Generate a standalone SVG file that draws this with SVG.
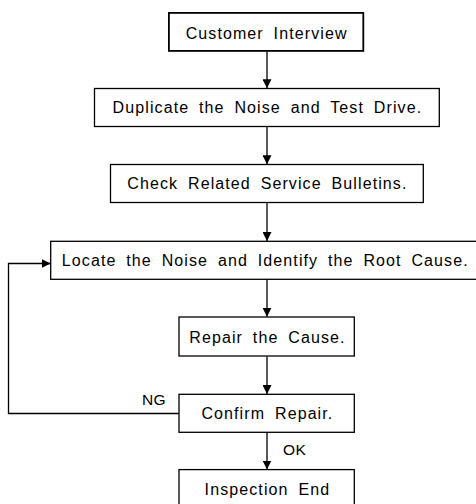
<svg xmlns="http://www.w3.org/2000/svg" width="476" height="504" viewBox="0 0 476 504">
  <defs>
    <style>
      .box { fill: #fff; stroke: #000; stroke-width: 1.3; }
      .box.start { stroke-width: 1.8; }
      .label { font-family: "Liberation Sans", Arial, sans-serif; font-size: 16px; letter-spacing: 1.1px; word-spacing: 4.3px; fill: #000; text-anchor: middle; }
      .tag { font-family: "Liberation Sans", Arial, sans-serif; font-size: 15.5px; letter-spacing: 0.4px; fill: #000; }
      .wire { fill: none; stroke: #000; stroke-width: 1.3; }
    </style>
    <marker id="arrow" viewBox="0 0 10 10" refX="10" refY="5" markerWidth="9" markerHeight="9" markerUnits="userSpaceOnUse" orient="auto">
      <path d="M0,0 L10,5 L0,10 Z" fill="#000"/>
    </marker>
  </defs>

  <rect width="476" height="504" fill="#fff"/>

  <!-- connectors -->
  <g id="connectors">
    <line class="wire" x1="267" y1="51.5" x2="267" y2="88.3" marker-end="url(#arrow)"/>
    <line class="wire" x1="267" y1="126.5" x2="267" y2="164.3" marker-end="url(#arrow)"/>
    <line class="wire" x1="267" y1="202.5" x2="267" y2="241" marker-end="url(#arrow)"/>
    <line class="wire" x1="267" y1="279.5" x2="267" y2="316.8" marker-end="url(#arrow)"/>
    <line class="wire" x1="267" y1="356.5" x2="267" y2="394" marker-end="url(#arrow)"/>
    <line class="wire" x1="267" y1="432.5" x2="267" y2="469.5" marker-end="url(#arrow)"/>
    <!-- NG loop back to the locate step -->
    <polyline class="wire" points="179,413.5 8.5,413.5 8.5,263.5 50.7,263.5" marker-end="url(#arrow)"/>
    <text class="tag" x="142" y="405">NG</text>
    <text class="tag" x="283" y="454.5">OK</text>
  </g>

  <g id="customer-interview">
    <rect class="box start" x="168.9" y="12.9" width="194.4" height="38"/>
    <text class="label" x="266.6" y="38.5">Customer Interview</text>
  </g>

  <g id="duplicate-noise">
    <rect class="box" x="94.5" y="88.5" width="344.8" height="38"/>
    <text class="label" x="267.4" y="113">Duplicate the Noise and Test Drive.</text>
  </g>

  <g id="check-bulletins">
    <rect class="box" x="110.5" y="164.5" width="312.8" height="38"/>
    <text class="label" x="267.4" y="189">Check Related Service Bulletins.</text>
  </g>

  <g id="locate-noise">
    <rect class="box" x="50.7" y="241.3" width="428" height="38"/>
    <text class="label" x="265.3" y="266">Locate the Noise and Identify the Root Cause.</text>
  </g>

  <g id="repair-cause">
    <rect class="box" x="179" y="317" width="175.3" height="39"/>
    <text class="label" x="267.4" y="343">Repair the Cause.</text>
  </g>

  <g id="confirm-repair">
    <rect class="box" x="179" y="394.3" width="175.3" height="38"/>
    <text class="label" x="267.4" y="418.5">Confirm Repair.</text>
  </g>

  <g id="inspection-end">
    <rect class="box" x="179" y="469.6" width="175.3" height="38"/>
    <text class="label" x="267.4" y="494.5">Inspection End</text>
  </g>
</svg>
